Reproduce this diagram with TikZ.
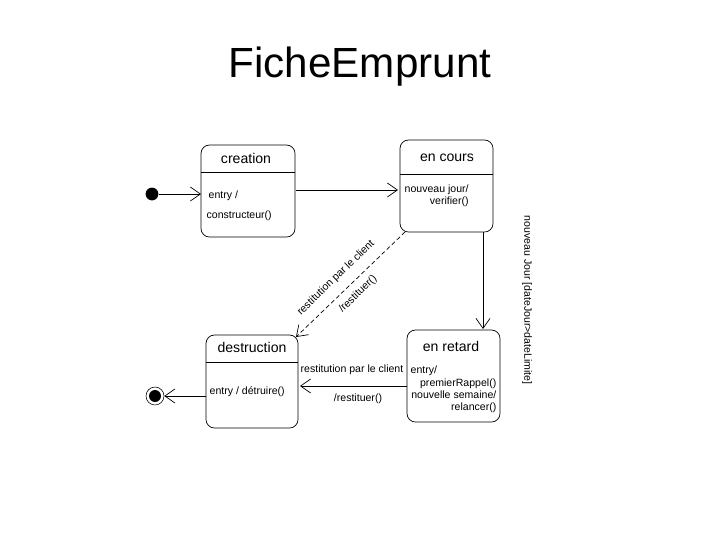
\documentclass[tikz,border=0pt]{standalone}
\usepackage{fontspec}
\setmainfont{Liberation Sans}
\usetikzlibrary{arrows.meta}
\tikzset{
	etat/.style={draw, rounded corners=6pt, line width=0.5pt},
	trans/.style={-{Straight Barb[length=2.5mm,width=3.5mm]}, line width=0.5pt},
	petit/.style={font=\fontsize{7.5}{8.5}\selectfont, inner sep=1pt},
	titre/.style={font=\fontsize{10}{11}\selectfont}
}
\begin{document}
\begin{tikzpicture}[x=0.025cm, y=-0.025cm]
	\useasboundingbox (0,0) rectangle (720,540);
	%\draw[help lines] (0,0) grid[step=50] (720,540);
	
	\node[font=\fontsize{30}{34}\selectfont] (titre) at (360,67) {FicheEmprunt};
	
	% les etats
	\foreach \n\xa\ya\xb\yb\yd in {creation/201/145/295/237/172, cours/400/140/493/232/174,
		destruction/206/335/298/428/362}
	{
		\draw[etat] (\xa,\ya) rectangle (\xb,\yb);
		\draw (\xa,\yd) -- (\xb,\yd);
		\coordinate (\n) at ({(\xa+\xb)/2},{(\ya+\yb)/2});
	}
	\draw[etat] (407,330) rectangle (500,422);
	
	\node[titre] (t1) at (246,158) {creation};
	\node[titre] (t2) at (447,158) {en cours};
	\node[titre] (t3) at (252,347) {destruction};
	\node[titre] (t4) at (451,346) {en retard};
	
	\node[petit, anchor=west] (e1) at (207,196) {entry /};
	\node[petit, anchor=west] (e2) at (205,216) {constructeur()};
	\node[petit, align=right, anchor=north west] (e3) at (403,183) {nouveau jour/\\verifier()};
	\node[petit, anchor=west] (e4) at (208,392) {entry / détruire()};
	\node[petit, anchor=west] (e5) at (409,371) {entry/};
	\node[petit, align=right, anchor=north east] (e6) at (498,377) {premierRappel()\\nouvelle semaine/\\relancer()};
	
	% pseudo-etats
	\node[circle, fill, inner sep=0pt, minimum size=13pt*0.7] (init) at (152,194) {};
	\node[circle, draw, inner sep=0pt, minimum size=18*0.71pt] (fin) at (155,396) {};
	\node[circle, fill, inner sep=0pt, minimum size=12*0.71pt] (finc) at (155,396) {};
	
	\coordinate (a1) at (201,194);
	\coordinate (a2) at (296,190);
	\coordinate (a3) at (398,190);
	\coordinate (a4) at (483,232);
	\coordinate (a5) at (483,329);
	\coordinate (a6) at (405,232);
	\coordinate (a7) at (296,337);
	\coordinate (a8) at (407,386);
	\coordinate (a9) at (300,386);
	\coordinate (a10) at (206,396);
	
	\draw[trans] (init) -- (a1);
	\draw[trans] (a2) -- (a3);
	\draw[trans] (a4) -- (a5);
	\draw[trans, densely dashed] (a6) -- (a7);
	\draw[trans] (a8) -- (a9);
	\draw[trans] (a10) -- (fin);
	
	\node[petit, rotate=44] (l1) at (336,278) {restitution par le client};
	\node[petit, rotate=44] (l2) at (358,294) {/restituer()};
	\node[petit] (l3) at (352,370) {restitution par le client};
	\node[petit] (l4) at (358,399) {/restituer()};
	\node[petit, rotate=-90] (l5) at (527,300) {nouveau Jour [dateJour>dateLimite]};
\end{tikzpicture}
\end{document}
